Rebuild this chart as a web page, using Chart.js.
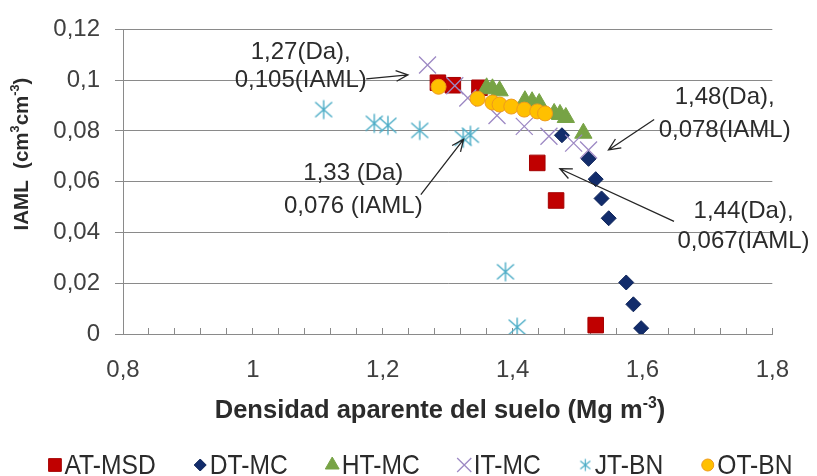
<!DOCTYPE html>
<html>
<head>
<meta charset="utf-8">
<script src="https://cdn.jsdelivr.net/npm/chart.js@4.4.1/dist/chart.umd.min.js"></script>
<style>
  html, body { margin: 0; padding: 0; background: #fff; }
  #wrap { width: 817px; height: 476px; }
</style>
</head>
<body>
<div id="wrap"><canvas id="chart" width="817" height="476"></canvas></div>
<script>
// values (x = Da, y = IAML)
const seriesNames = ['AT-MSD', 'DT-MC', 'HT-MC', 'IT-MC', 'JT-BN', 'OT-BN'];

const atX = [1.285, 1.308, 1.349, 1.438, 1.467, 1.528];
const atY = [0.099, 0.098, 0.097, 0.0674, 0.0526, 0.0035];

const dtX = [1.476, 1.517, 1.528, 1.537, 1.548, 1.575, 1.586, 1.598];
const dtY = [0.0783, 0.069, 0.061, 0.0534, 0.0456, 0.0203, 0.0117, 0.0023];

const htX = [1.360, 1.369, 1.380, 1.419, 1.430, 1.441, 1.464, 1.473, 1.482, 1.509];
const htY = [0.0970, 0.0966, 0.0958, 0.0919, 0.0915, 0.0908, 0.0869, 0.0865, 0.0853, 0.0791];

const itX = [1.269, 1.311, 1.331, 1.376, 1.418, 1.456, 1.494, 1.517];
const itY = [0.106, 0.0978, 0.093, 0.0861, 0.0818, 0.0779, 0.0752, 0.0725];

const jtX = [1.109, 1.187, 1.208, 1.257, 1.324, 1.335, 1.389, 1.407];
const jtY = [0.0884, 0.083, 0.0822, 0.0802, 0.0771, 0.0783, 0.0245, 0.0027];

const otX = [1.286, 1.346, 1.369, 1.380, 1.398, 1.418, 1.438, 1.450];
const otY = [0.0974, 0.0927, 0.0912, 0.0904, 0.0896, 0.0884, 0.0877, 0.0869];

// axis ticks
const xLabelValues = [0.8, 1, 1.2, 1.4, 1.6, 1.8];
const yLabelValues = [0, 0.02, 0.04, 0.06, 0.08, 0.1, 0.12];

// call-outs (anchors in data units)
const notes = [
  { lines: ['1,27(Da),', '0,105(IAML)'], x: 1.0737, y: [0.111, 0.1001], from: [1.1746, 0.1005], to: [1.2388, 0.1021] },
  { lines: ['1,33 (Da)', '0,076 (IAML)'], x: 1.1547, y: [0.0631, 0.0503], from: [1.2587, 0.0549], to: [1.3245, 0.0767] },
  { lines: ['1,48(Da),', '0,078(IAML)'], x: 1.7266, y: [0.0931, 0.0802], from: [1.618, 0.0845], to: [1.5477, 0.0725] },
  { lines: ['1,44(Da),', '0,067(IAML)'], x: 1.7557, y: [0.0483, 0.0366], from: [1.6486, 0.0444], to: [1.4728, 0.0651] }
];

const FAM = '"Liberation Sans", Arial, sans-serif';
const gridColor = '#8a8a8a';
const tickColor = '#404040';
const textColor = '#2b2b2b';

const fmt = v => String(Math.round(v * 100) / 100).replace('.', ',');
const pts = (xs, ys) => xs.map((x, i) => ({ x, y: ys[i] }));

// asterisk marker (vertical bar + X), like the spreadsheet one
function makeStar(size, color, lw) {
  const c = document.createElement('canvas');
  c.width = size; c.height = size;
  const g = c.getContext('2d');
  g.strokeStyle = color; g.lineWidth = lw;
  const m = size / 2, p = 1.5;
  g.beginPath();
  g.moveTo(m, p); g.lineTo(m, size - p);
  g.moveTo(p + 1, p + 2); g.lineTo(size - p - 1, size - p - 2);
  g.moveTo(size - p - 1, p + 2); g.lineTo(p + 1, size - p - 2);
  g.stroke();
  return c;
}
const starBig = makeStar(22, '#4bacc6', 1.4);
const starSmall = makeStar(15, '#4bacc6', 1.2);

const styles = [
  { pointStyle: 'rect', pointRadius: 11, backgroundColor: '#c00000', borderColor: '#a50000', pointBorderWidth: 1, order: 6, legend: { r: 9 } },
  { pointStyle: 'rectRot', pointRadius: 7.5, backgroundColor: '#122c6b', borderColor: '#0e2459', pointBorderWidth: 1, order: 5, legend: { r: 6 } },
  { pointStyle: 'triangle', pointRadius: 10, backgroundColor: '#77a345', borderColor: '#77a345', pointBorderWidth: 1, order: 4, legend: { r: 8 } },
  { pointStyle: 'crossRot', pointRadius: 12, backgroundColor: '#9d89c4', borderColor: '#9d89c4', pointBorderWidth: 1.3, order: 3, legend: { r: 10 } },
  { pointStyle: starBig, pointRadius: 11, backgroundColor: '#4bacc6', borderColor: '#4bacc6', pointBorderWidth: 1, order: 2, legend: { img: starSmall } },
  { pointStyle: 'circle', pointRadius: 7.5, backgroundColor: '#ffc000', borderColor: '#ee9a1c', pointBorderWidth: 1, order: 1, legend: { r: 6 } }
];
const seriesData = [pts(atX, atY), pts(dtX, dtY), pts(htX, htY), pts(itX, itY), pts(jtX, jtY), pts(otX, otY)];

const datasets = seriesNames.map((name, i) => {
  const s = styles[i];
  return {
    label: name,
    data: seriesData[i],
    pointStyle: s.pointStyle,
    pointRadius: s.pointRadius,
    pointHoverRadius: s.pointRadius,
    backgroundColor: s.backgroundColor,
    borderColor: s.borderColor,
    pointBorderWidth: s.pointBorderWidth,
    order: s.order
  };
});

function drawRich(ctx, segs, size, cx, cy, bold) {
  let w = 0;
  segs.forEach(s => {
    ctx.font = (bold ? 'bold ' : '') + (s.sup ? size * 0.62 : size) + 'px ' + FAM;
    s.w = ctx.measureText(s.t).width; w += s.w;
  });
  let x = cx - w / 2;
  ctx.textAlign = 'left'; ctx.textBaseline = 'middle';
  segs.forEach(s => {
    ctx.font = (bold ? 'bold ' : '') + (s.sup ? size * 0.62 : size) + 'px ' + FAM;
    ctx.fillText(s.t, x, s.sup ? cy - size * 0.3 : cy);
    x += s.w;
  });
}

function arrow(ctx, x1, y1, x2, y2) {
  const a = Math.atan2(y2 - y1, x2 - x1), L = 13, sp = 0.42;
  ctx.beginPath();
  ctx.moveTo(x1, y1); ctx.lineTo(x2, y2);
  ctx.moveTo(x2 - L * Math.cos(a - sp), y2 - L * Math.sin(a - sp));
  ctx.lineTo(x2, y2);
  ctx.lineTo(x2 - L * Math.cos(a + sp), y2 - L * Math.sin(a + sp));
  ctx.stroke();
}

const extras = {
  id: 'extras',
  afterDraw(chart) {
    const { ctx, scales: { x, y } } = chart;
    ctx.save();
    // call-outs
    ctx.fillStyle = textColor; ctx.strokeStyle = '#262626'; ctx.lineWidth = 1.3;
    ctx.font = '24px ' + FAM; ctx.textAlign = 'center'; ctx.textBaseline = 'middle';
    notes.forEach(n => {
      n.lines.forEach((t, i) => ctx.fillText(t, x.getPixelForValue(n.x), y.getPixelForValue(n.y[i])));
      arrow(ctx, x.getPixelForValue(n.from[0]), y.getPixelForValue(n.from[1]),
                 x.getPixelForValue(n.to[0]), y.getPixelForValue(n.to[1]));
    });

    // axis titles
    ctx.fillStyle = textColor;
    drawRich(ctx, [{ t: 'Densidad aparente del suelo (Mg m' }, { t: '-3', sup: true }, { t: ')' }], 25.5, 440, 411, true);
    ctx.save();
    ctx.translate(22, 154); ctx.rotate(-Math.PI / 2);
    drawRich(ctx, [{ t: 'IAML  (cm' }, { t: '3', sup: true }, { t: 'cm' }, { t: '-3', sup: true }, { t: ')' }], 20.5, 0, 0, true);
    ctx.restore();

    // legend (narrow lettering, as in the reference)
    const fs = 28, sx = 0.88, box = 13, gap = 3, pad = 38, ly = 465;
    ctx.font = fs + 'px ' + FAM;
    const widths = seriesNames.map(t => ctx.measureText(t).width * sx);
    const total = widths.reduce((s, w) => s + box + gap + w, 0) + pad * (seriesNames.length - 1);
    let lx = 420.5 - total / 2;
    seriesNames.forEach((t, i) => {
      const s = styles[i], cx = lx + box / 2;
      ctx.fillStyle = s.backgroundColor; ctx.strokeStyle = s.borderColor; ctx.lineWidth = s.pointBorderWidth;
      if (s.legend.img) {
        ctx.drawImage(s.legend.img, cx - s.legend.img.width / 2, ly - s.legend.img.height / 2);
      } else if (Chart.helpers && Chart.helpers.drawPoint) {
        Chart.helpers.drawPoint(ctx, { pointStyle: s.pointStyle, radius: s.legend.r, borderWidth: s.pointBorderWidth, rotation: 0 }, cx, ly);
      }
      ctx.save();
      ctx.translate(lx + box + gap, ly + 1);
      ctx.scale(sx, 1);
      ctx.fillStyle = textColor; ctx.textAlign = 'left'; ctx.textBaseline = 'middle';
      ctx.font = fs + 'px ' + FAM;
      ctx.fillText(t, 0, 0);
      ctx.restore();
      lx += box + gap + widths[i] + pad;
    });
    ctx.restore();
  }
};

new Chart(document.getElementById('chart'), {
  type: 'scatter',
  data: { datasets },
  options: {
    responsive: false,
    animation: false,
    devicePixelRatio: 1,
    layout: { padding: { top: 26, right: 40, left: 0, bottom: 0 } },
    plugins: { legend: { display: false }, tooltip: { enabled: false } },
    scales: {
      x: {
        type: 'linear', min: 0.8, max: 1.8,
        afterFit: s => { s.height = 142; },
        grid: { drawOnChartArea: false, drawTicks: true, tickLength: -6, color: gridColor, lineWidth: 1 },
        border: { display: true, color: gridColor, width: 1 },
        ticks: {
          stepSize: 0.04, maxTicksLimit: 100, autoSkip: false, maxRotation: 0, minRotation: 0,
          padding: 28, color: tickColor, font: { family: FAM, size: 24 },
          callback: v => xLabelValues.some(t => Math.abs(t - v) < 1e-6) ? fmt(v) : ''
        }
      },
      y: {
        type: 'linear', min: 0, max: 0.12,
        afterFit: s => { s.width = 123; },
        grid: { color: gridColor, lineWidth: 1, tickLength: 8 },
        border: { display: true, color: gridColor, width: 1 },
        ticks: {
          stepSize: 0.02, padding: 15, color: tickColor, font: { family: FAM, size: 24 },
          callback: v => yLabelValues.some(t => Math.abs(t - v) < 1e-6) ? fmt(v) : ''
        }
      }
    }
  },
  plugins: [extras]
});
</script>
</body>
</html>
